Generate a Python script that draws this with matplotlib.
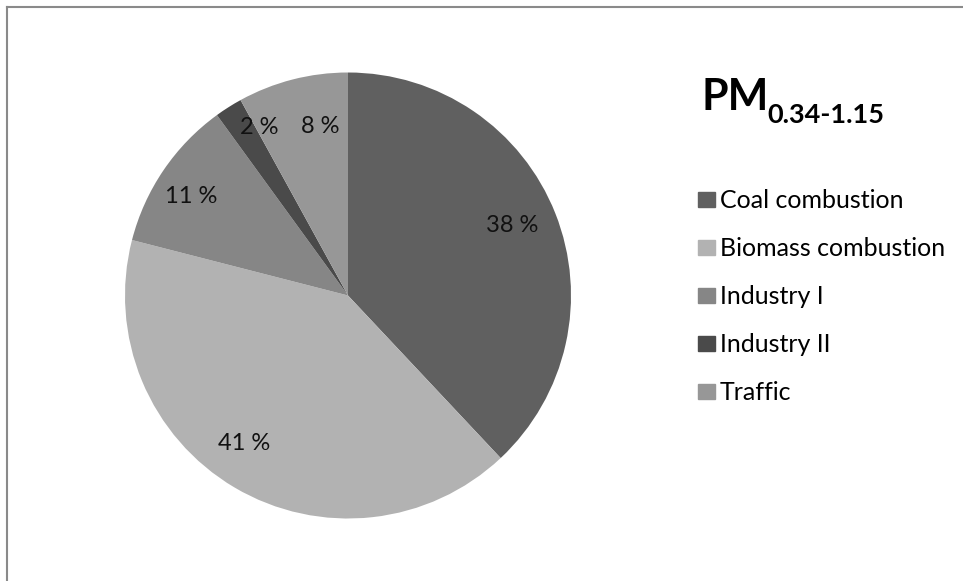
import numpy as np
import matplotlib
matplotlib.use("Agg")
import matplotlib.pyplot as plt
from matplotlib.lines import Line2D

# data
sources = ["Coal combustion", "Biomass combustion", "Industry I", "Industry II", "Traffic"]
shares = [38, 41, 11, 2, 8]
pct_labels = ["38 %", "41 %", "11 %", "2 %", "8 %"]
greys = ["#606060", "#b2b2b2", "#868686", "#4a4a4a", "#979797"]

plt.rcParams["font.family"] = ["Lato", "DejaVu Sans"]

W, H = 963, 581
fig = plt.figure(figsize=(W / 100, H / 100), dpi=100)

# grey frame (top and left visible)
fig.add_artist(Line2D([6.5 / W, 6.5 / W], [0, 1 - 7 / H], color="#8a8a8a", lw=1.5))
fig.add_artist(Line2D([6.5 / W, 1], [1 - 7 / H, 1 - 7 / H], color="#8a8a8a", lw=1.5))

# pie axes: centre (348,295), radius 223 px
cx, cy, r = 348, 295.5, 223
ax = fig.add_axes([(cx - r) / W, (H - cy - r) / H, 2 * r / W, 2 * r / H])
wedges, _ = ax.pie(shares, colors=greys, startangle=90, counterclock=False,
                   wedgeprops=dict(linewidth=0))
ax.set_xlim(-1, 1)
ax.set_ylim(-1, 1)
ax.axis("off")

# label placement per slice (excel "best fit" style): radius fraction, angle shift
dists = [0.80, 0.81, 0.83, 0.85, 0.77]
shifts = [1.5, -4.5, 2.0, -4.5, -5.0]
for w, txt, d, s in zip(wedges, pct_labels, dists, shifts):
    ang = np.deg2rad((w.theta1 + w.theta2) / 2 + s)
    ax.text(d * np.cos(ang), d * np.sin(ang), txt, ha="center", va="center",
            fontsize=17, color="#111111")

# title with subscript
fig.text(701 / W, 1 - 110 / H, "PM", fontsize=31, fontweight="bold",
         ha="left", va="baseline")
fig.text(767 / W, 1 - 123 / H, "0.34-1.15", fontsize=19.5, fontweight="bold",
         ha="left", va="baseline")

# legend
handles = [plt.Rectangle((0, 0), 1, 1, color=c) for c in greys]
fig.legend(handles, sources, loc="upper left", bbox_to_anchor=(698 / W, 1 - 189 / H),
           frameon=False, fontsize=18, handlelength=0.68, handleheight=0.56,
           handletextpad=0.18, labelspacing=1.0, borderpad=0, borderaxespad=0)

plt.savefig("out.png", dpi=100)
